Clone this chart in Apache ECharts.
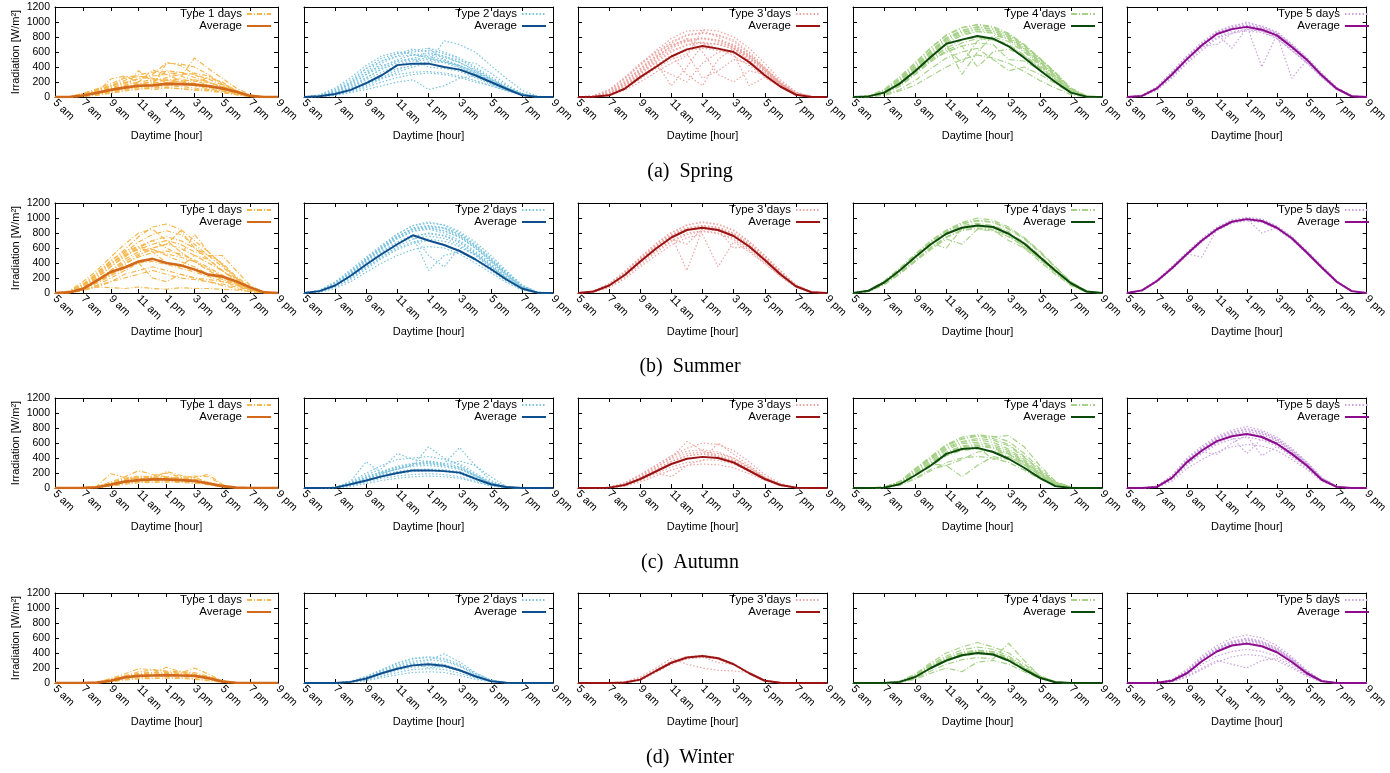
<!DOCTYPE html>
<html>
<head>
<meta charset="utf-8">
<script src="https://cdn.jsdelivr.net/npm/echarts@6/dist/echarts.min.js"></script>
<style>
html,body{margin:0;padding:0;background:#fff;}
#chart{width:1390px;height:773px;}
</style>
</head>
<body>
<div id="chart"></div>
<script>
// ---------- tick labels / categories ----------
const hours = ['5 am','6 am','7 am','8 am','9 am','10 am','11 am','12 pm','1 pm','2 pm','3 pm','4 pm','5 pm','6 pm','7 pm','8 pm','9 pm'];
const typeNames = ['Type 1 days','Type 2 days','Type 3 days','Type 4 days','Type 5 days'];
const captions = ['(a)  Spring','(b)  Summer','(c)  Autumn','(d)  Winter'];
const yTitle = 'Irradiation [W/m\u00B2]';
const xTitle = 'Daytime [hour]';

// ---------- SPRING ----------
const sp1Avg = [0,0,20,55,95,125,150,155,175,172,165,145,115,70,15,0,0];
const sp1Days = [
[0,0,30,80,120,180,250,300,460,420,300,200,140,80,20,0,0],
[0,0,50,90,100,140,350,200,180,260,520,380,250,120,30,0,0],
[0,0,20,60,240,280,200,360,300,220,180,150,100,60,10,0,0],
[0,0,10,40,80,120,150,180,220,240,200,260,200,80,15,0,0],
[0,0,5,30,60,90,110,130,150,140,120,100,60,30,5,0,0],
[0,0,40,100,150,200,180,160,450,440,400,300,180,90,20,0,0],
[0,0,20,50,90,110,130,100,120,110,90,80,60,40,10,0,0],
[0,0,30,70,130,270,280,250,200,180,160,130,90,50,10,0,0],
[0,0,15,45,100,150,170,210,260,300,320,280,170,70,10,0,0],
[0,0,25,60,110,160,200,230,240,200,150,110,80,40,10,0,0],
[0,0,10,20,50,80,100,120,130,110,100,90,70,30,5,0,0],
[0,0,30,90,140,190,240,280,300,330,260,200,130,70,15,0,0],
[0,0,35,85,160,220,300,330,340,280,220,160,110,60,12,0,0],
[0,0,15,40,70,100,130,160,190,210,230,190,140,70,10,0,0],
[0,0,45,110,180,250,270,240,220,200,180,150,100,50,8,0,0],
[0,0,20,50,90,130,170,200,350,330,300,240,160,80,15,0,0]
];
const sp2Avg = [0,10,40,95,185,290,425,445,445,400,365,290,200,110,25,0,0];
const sp2Days = [
[0,20,80,200,380,520,580,600,620,580,500,380,250,130,40,5,0],
[0,10,50,120,230,330,420,480,500,470,420,340,240,130,40,5,0],
[0,30,120,260,420,550,600,570,520,460,380,280,180,90,25,0,0],
[0,5,30,80,150,240,330,400,450,750,700,600,420,250,90,10,0],
[0,10,40,100,180,250,300,330,340,320,280,220,150,80,20,0,0],
[0,15,60,150,300,450,550,620,650,600,520,400,270,150,45,5,0],
[0,5,20,60,100,150,200,230,100,150,250,280,200,110,30,0,0],
[0,20,90,200,330,420,480,520,560,530,460,360,240,120,35,5,0],
[0,10,50,110,200,300,380,420,650,500,400,310,200,110,30,0,0],
[0,5,25,70,130,200,260,300,320,300,260,200,150,90,25,0,0],
[0,20,70,170,300,400,500,560,580,550,480,450,320,170,50,5,0],
[0,10,45,120,250,380,470,510,400,380,340,260,170,90,25,0,0],
[0,15,70,180,340,480,580,640,600,540,460,350,230,120,35,5,0],
[0,8,35,90,170,260,360,430,470,460,420,330,220,120,35,5,0],
[0,25,100,230,380,480,540,560,540,500,420,320,210,100,30,0,0],
[0,12,55,140,260,370,450,500,520,480,400,300,200,100,30,0,0]
];
const sp3Avg = [0,3,22,110,265,400,540,635,680,645,600,465,290,140,30,0,0];
const sp3Days = [
[0,10,60,200,380,560,720,820,850,830,760,600,400,200,60,5,0],
[0,5,40,150,330,500,650,740,780,760,700,560,380,190,50,5,0],
[0,15,80,250,430,620,780,880,890,800,650,480,300,150,40,0,0],
[0,5,30,120,260,420,560,300,150,500,650,550,380,200,55,5,0],
[0,10,50,180,350,520,680,780,600,300,200,350,300,180,50,5,0],
[0,5,20,90,200,330,450,550,900,880,800,650,450,230,70,8,0],
[0,10,55,170,310,460,150,400,700,720,680,540,360,180,50,5,0],
[0,20,100,260,450,600,700,750,720,650,550,420,270,130,35,0,0],
[0,5,35,130,280,420,540,620,650,620,580,150,260,140,40,5,0],
[0,10,50,160,320,480,620,700,730,700,640,520,350,170,45,5,0],
[0,8,40,140,280,400,300,200,450,600,620,500,330,160,40,5,0],
[0,12,70,210,380,540,680,770,780,740,660,520,340,170,45,5,0],
[0,15,90,240,420,590,740,830,860,820,740,580,380,180,50,5,0],
[0,8,45,150,300,460,600,690,720,700,650,530,360,180,50,5,0],
[0,10,60,190,360,530,670,760,790,760,690,550,360,180,48,5,0],
[0,5,30,110,240,380,500,580,250,350,500,450,320,170,45,5,0]
];
const sp4Avg = [0,8,58,178,347,533,710,765,812,778,676,524,356,200,58,5,0];
const sp4Days = [
[0,15,90,250,450,650,820,920,970,940,850,700,520,330,120,15,0],
[0,10,70,220,400,600,780,880,930,900,820,680,500,310,100,10,0],
[0,5,40,140,300,470,620,720,780,760,680,550,380,220,70,5,0],
[0,8,60,190,360,540,700,300,600,820,780,640,460,280,80,8,0],
[0,5,30,100,220,380,520,600,650,500,350,400,300,180,50,5,0],
[0,12,80,230,420,610,780,860,900,880,800,660,480,290,95,10,0],
[0,5,50,150,320,500,650,760,800,780,700,560,400,240,70,5,0],
[0,3,20,80,160,280,400,500,560,520,450,340,220,120,30,0,0],
[0,10,70,200,380,560,720,820,870,850,760,620,440,260,80,8,0],
[0,8,55,170,350,520,660,450,750,800,740,600,420,250,75,8,0],
[0,10,60,180,340,500,600,680,720,700,500,480,360,210,60,5,0],
[0,15,100,270,460,660,830,930,960,930,840,700,510,320,110,12,0],
[0,12,85,240,430,620,790,890,940,910,830,690,510,320,105,12,0],
[0,8,65,200,380,570,740,840,880,860,780,640,460,280,88,9,0],
[0,10,75,215,400,590,760,860,910,880,800,650,470,285,90,10,0],
[0,5,45,160,330,480,600,680,400,600,640,540,390,230,70,5,0]
];
const sp5Avg = [0,15,115,300,505,690,840,905,935,898,822,667,498,289,111,10,0];
const sp5Days = [
[0,20,130,320,530,710,860,930,960,930,850,690,510,300,120,12,0],
[0,15,110,290,490,680,830,900,930,900,820,660,490,290,110,10,0],
[0,25,140,340,550,730,880,950,980,950,870,710,530,320,130,15,0],
[0,10,100,270,470,650,800,870,900,880,800,640,470,270,100,8,0],
[0,15,120,310,510,690,850,920,950,400,830,680,500,290,110,10,0],
[0,15,110,300,500,680,840,910,940,910,830,250,490,290,110,10,0],
[0,12,100,280,500,680,700,850,900,880,780,620,450,260,95,8,0],
[0,20,120,310,520,700,850,920,950,920,840,680,500,300,115,12,0],
[0,10,90,250,450,620,780,850,880,860,780,620,460,270,100,8,0],
[0,25,130,330,540,720,870,940,1000,940,860,700,520,310,120,12,0],
[0,15,115,300,500,690,840,650,920,890,810,660,490,285,110,10,0],
[0,18,125,315,515,700,855,925,955,925,845,690,505,300,115,12,0]
];

// ---------- SUMMER ----------
const su1Avg = [0,8,55,165,280,340,420,455,400,370,315,245,220,155,75,8,0];
const su1Days = [
[0,20,100,250,420,580,750,880,920,850,700,550,380,200,70,10,0],
[0,10,60,150,250,350,420,450,400,360,300,240,200,150,60,5,0],
[0,15,80,200,350,500,600,550,400,350,500,450,300,180,70,8,0],
[0,5,40,100,150,200,250,300,250,200,180,150,120,80,40,5,0],
[0,10,50,80,70,60,80,60,50,70,60,60,50,40,20,0,0],
[0,25,150,300,480,650,800,850,700,550,420,300,200,120,50,5,0],
[0,10,60,140,250,380,500,600,650,830,600,500,400,220,80,10,0],
[0,15,90,220,380,520,620,700,600,500,780,550,380,200,70,8,0],
[0,10,60,150,300,450,550,600,650,600,500,400,300,150,50,5,0],
[0,5,30,80,150,250,300,350,300,250,200,180,150,100,40,5,0],
[0,20,110,250,400,500,580,650,700,650,550,500,500,300,100,10,0],
[0,10,70,180,300,420,520,580,500,420,350,250,180,120,50,5,0],
[0,5,40,100,200,300,400,200,150,250,200,150,100,60,20,0,0],
[0,15,80,200,350,480,600,700,750,700,600,450,300,170,60,8,0],
[0,18,95,230,390,540,680,780,830,780,650,500,350,190,65,8,0],
[0,8,50,130,230,330,400,420,380,330,280,220,160,110,45,5,0],
[0,12,70,170,290,400,480,540,560,520,440,340,240,130,50,5,0],
[0,20,120,270,430,560,620,580,520,480,420,320,220,130,50,5,0]
];
const su2Avg = [0,25,100,230,380,520,650,770,700,640,560,450,320,180,60,5,0];
const su2Days = [
[0,30,130,280,450,620,780,900,950,900,800,650,460,270,90,10,0],
[0,25,110,250,420,580,720,820,850,800,700,560,400,220,70,8,0],
[0,20,100,230,380,530,650,750,300,500,550,450,320,180,55,5,0],
[0,35,140,290,460,620,760,850,870,830,750,600,420,240,80,8,0],
[0,15,80,180,320,460,580,660,700,650,560,440,300,160,50,5,0],
[0,30,120,260,430,600,750,870,900,870,780,640,470,280,100,12,0],
[0,20,90,210,350,480,600,680,720,690,620,500,340,190,60,5,0],
[0,25,100,240,400,560,680,780,500,350,600,520,360,200,65,6,0],
[0,35,150,310,480,640,790,900,930,910,820,680,500,300,110,12,0],
[0,10,60,150,280,400,500,580,620,600,520,400,270,140,40,3,0],
[0,20,95,220,370,520,660,750,800,770,680,540,380,210,70,6,0],
[0,30,130,270,440,600,740,850,880,860,760,620,440,250,85,8,0],
[0,28,120,265,435,590,730,830,860,830,740,600,430,240,80,8,0],
[0,22,105,235,390,540,670,760,790,760,670,530,370,200,65,6,0],
[0,18,85,200,340,490,620,720,760,730,640,510,350,190,60,5,0],
[0,30,135,285,455,610,750,860,890,870,780,630,450,260,90,10,0]
];
const su3Avg = [0,20,100,240,420,590,740,840,870,840,760,620,440,250,90,10,0];
const su3Days = [
[0,25,120,280,470,650,800,900,950,920,840,690,500,300,110,15,0],
[0,20,100,250,430,600,750,850,880,850,770,630,450,260,95,12,0],
[0,15,80,210,380,540,680,780,820,790,710,570,400,230,80,10,0],
[0,20,110,260,440,610,760,300,850,830,750,610,440,250,90,10,0],
[0,25,115,270,460,630,780,870,900,880,800,660,480,280,100,12,0],
[0,10,70,190,350,500,640,740,780,350,680,550,390,220,75,8,0],
[0,20,105,255,445,615,765,860,890,860,780,640,460,270,100,12,0],
[0,15,90,230,400,560,700,800,830,800,730,590,420,240,85,10,0],
[0,25,125,290,480,660,810,910,940,910,830,680,500,300,110,15,0],
[0,18,95,240,420,590,720,650,860,830,760,620,450,260,90,10,0],
[0,20,100,250,430,600,750,850,870,840,600,620,440,255,90,10,0],
[0,22,110,265,455,625,775,865,900,870,790,650,470,275,100,12,0]
];
const su4Avg = [0,30,140,300,480,650,790,870,900,880,790,660,480,300,130,20,0];
const su4Days = [
[0,35,150,320,500,680,820,920,960,940,850,720,540,340,150,25,0],
[0,30,140,300,480,660,800,880,910,890,800,680,500,310,130,20,0],
[0,25,120,270,440,610,750,840,870,850,760,630,450,280,110,15,0],
[0,35,160,330,520,700,840,940,1000,970,880,740,560,350,150,25,0],
[0,20,110,250,420,580,720,650,850,830,750,620,450,270,110,15,0],
[0,30,145,310,490,670,810,900,930,900,820,600,480,300,125,20,0],
[0,25,130,290,470,640,780,870,900,880,790,670,490,300,120,18,0],
[0,30,140,300,490,660,600,860,890,870,780,650,470,290,120,18,0],
[0,20,115,260,430,600,740,830,860,840,700,600,420,250,100,12,0],
[0,35,155,325,510,690,830,930,970,950,860,730,550,345,145,25,0]
];
const su5Avg = [0,35,160,330,520,700,850,950,985,960,870,730,540,340,150,25,0];
const su5Days = [
[0,40,170,350,540,720,870,970,1000,980,890,750,560,360,160,30,0],
[0,35,160,330,520,700,850,950,985,960,870,730,540,340,150,25,0],
[0,30,150,315,500,680,830,930,965,940,850,710,525,330,140,22,0],
[0,40,175,355,545,725,875,975,1010,985,895,755,565,365,165,30,0],
[0,35,160,330,520,480,850,950,985,800,870,730,540,340,150,25,0],
[0,30,150,320,510,690,840,940,970,950,860,720,530,335,145,22,0],
[0,38,165,340,530,710,860,960,995,970,880,740,550,350,155,28,0],
[0,32,155,325,515,695,845,945,975,955,865,725,535,338,148,24,0]
];

// ---------- AUTUMN ----------
const au1Avg = [0,0,0,10,45,85,105,115,115,105,95,60,25,5,0,0,0];
const au1Days = [
[0,0,5,20,80,150,230,180,150,120,100,60,20,5,0,0,0],
[0,0,0,10,50,100,140,160,200,150,140,180,50,5,0,0,0],
[0,0,0,15,60,120,150,140,130,120,110,70,30,5,0,0,0],
[0,0,0,5,30,60,80,90,90,80,70,50,20,3,0,0,0],
[0,0,5,25,190,140,120,130,220,170,140,80,30,5,0,0,0],
[0,0,0,10,40,80,100,120,110,100,90,60,25,5,0,0,0],
[0,0,0,8,35,70,90,100,100,95,160,150,40,5,0,0,0],
[0,0,2,15,60,110,130,140,150,140,120,70,25,3,0,0,0],
[0,0,0,5,25,50,70,75,80,75,65,45,15,2,0,0,0],
[0,0,3,20,70,130,160,150,140,130,100,60,20,3,0,0,0]
];
const au2Avg = [0,0,5,50,100,155,200,235,235,225,205,125,50,12,0,0,0];
const au2Days = [
[0,0,10,80,200,300,380,400,420,380,320,200,80,15,0,0,0],
[0,0,5,60,150,220,280,320,330,300,260,160,60,10,0,0,0],
[0,0,10,90,350,200,250,300,550,400,300,180,70,12,0,0,0],
[0,0,3,30,80,130,160,180,190,180,150,90,30,5,0,0,0],
[0,0,8,70,170,260,460,380,350,320,540,300,100,20,0,0,0],
[0,0,5,50,120,180,220,250,250,240,210,130,50,10,0,0,0],
[0,0,5,40,100,160,200,230,240,230,200,120,45,8,0,0,0],
[0,0,8,60,140,220,290,330,340,310,360,300,150,20,0,0,0],
[0,0,2,20,60,100,130,150,160,150,130,80,30,5,0,0,0],
[0,0,6,55,130,200,260,290,300,280,250,160,60,10,0,0,0],
[0,0,4,45,110,170,210,240,250,240,220,140,55,10,0,0,0],
[0,0,7,60,140,210,270,310,320,300,270,170,65,12,0,0,0],
[0,0,4,40,100,150,190,220,230,220,190,110,40,8,0,0,0],
[0,0,6,50,120,190,250,320,360,330,280,170,60,10,0,0,0]
];
const au3Avg = [0,0,5,40,120,220,320,390,415,400,340,230,120,40,5,0,0];
const au3Days = [
[0,0,10,60,170,300,430,530,600,580,500,350,180,60,8,0,0],
[0,0,5,40,130,240,350,430,460,440,380,260,130,40,5,0,0],
[0,0,8,50,150,270,400,620,500,420,360,250,130,45,6,0,0],
[0,0,3,30,100,190,280,340,360,600,450,300,150,50,6,0,0],
[0,0,10,70,180,300,420,490,510,480,400,270,140,45,6,0,0],
[0,0,4,35,110,200,150,300,380,370,320,220,110,35,4,0,0],
[0,0,6,45,140,250,360,430,450,420,360,240,120,40,5,0,0],
[0,0,2,25,80,160,240,300,320,310,270,190,100,30,3,0,0],
[0,0,8,55,160,280,390,460,480,460,400,280,140,45,6,0,0]
];
const au4Avg = [0,0,5,50,170,300,455,520,535,480,390,270,135,25,0,0,0];
const au4Days = [
[0,0,10,80,240,400,560,650,690,660,580,420,240,70,8,0,0],
[0,0,8,70,210,360,510,590,610,580,500,360,200,55,5,0,0],
[0,0,5,50,160,290,430,500,520,490,420,300,160,40,3,0,0],
[0,0,10,85,250,410,570,660,700,680,700,550,300,90,10,0,0],
[0,0,5,40,130,250,300,150,300,420,380,270,140,35,3,0,0],
[0,0,8,65,200,340,480,560,590,560,480,350,190,50,5,0,0],
[0,0,6,55,170,310,440,520,550,380,420,310,170,45,4,0,0],
[0,0,12,90,260,420,580,680,710,690,620,460,260,80,10,0,0],
[0,0,4,40,120,230,340,400,420,400,340,240,120,30,2,0,0],
[0,0,8,65,190,330,470,550,570,540,460,330,180,50,5,0,0],
[0,0,6,55,180,320,300,380,480,500,450,340,200,60,6,0,0],
[0,0,9,75,220,380,530,610,640,610,520,380,210,60,6,0,0],
[0,0,7,60,190,330,460,540,560,530,450,320,175,48,5,0,0],
[0,0,10,80,235,390,540,620,660,640,560,410,230,65,7,0,0]
];
const au5Avg = [0,0,15,135,345,500,625,690,720,680,590,455,300,110,15,0,0];
const au5Days = [
[0,0,20,150,370,530,660,740,780,740,650,500,330,130,20,0,0],
[0,0,15,130,340,500,630,700,730,690,600,460,300,110,15,0,0],
[0,0,25,170,400,560,690,770,820,770,680,530,350,140,22,0,0],
[0,0,10,110,300,460,580,650,680,640,560,420,270,95,12,0,0],
[0,0,15,130,330,480,450,600,700,430,550,430,280,100,15,0,0],
[0,0,18,140,360,520,650,720,750,720,630,490,320,120,18,0,0],
[0,0,12,120,320,470,600,680,460,660,580,440,290,105,14,0,0],
[0,0,22,160,380,540,670,750,790,750,660,510,340,135,20,0,0],
[0,0,14,125,330,490,620,690,720,690,600,460,300,115,16,0,0],
[0,0,8,90,260,380,480,550,580,560,500,380,250,90,10,0,0],
[0,0,17,145,360,515,645,720,760,720,630,485,320,125,18,0,0],
[0,0,13,125,335,495,625,695,725,695,605,465,305,115,16,0,0],
[0,0,20,155,375,535,665,745,785,745,655,505,335,130,20,0,0]
];

// ---------- WINTER ----------
const wi1Avg = [0,0,0,5,30,75,95,100,105,100,95,65,20,3,0,0,0];
const wi1Days = [
[0,0,0,10,60,120,190,180,160,150,140,90,30,5,0,0,0],
[0,0,0,5,40,90,120,130,210,150,120,80,25,3,0,0,0],
[0,0,0,8,50,100,130,140,140,130,200,120,30,4,0,0,0],
[0,0,0,3,20,50,70,80,80,75,60,40,10,2,0,0,0],
[0,0,0,5,30,70,100,110,110,100,90,60,20,3,0,0,0],
[0,0,0,6,40,80,110,120,130,120,110,70,22,3,0,0,0],
[0,0,0,2,15,40,55,60,65,60,50,30,10,1,0,0,0],
[0,0,0,7,45,90,150,170,150,130,110,70,25,3,0,0,0]
];
const wi2Avg = [0,0,0,15,60,130,190,235,250,230,170,90,25,3,0,0,0];
const wi2Days = [
[0,0,0,20,80,170,260,320,340,310,230,120,35,5,0,0,0],
[0,0,0,15,60,130,200,250,270,250,180,90,25,3,0,0,0],
[0,0,0,25,90,180,270,330,350,330,250,130,40,5,0,0,0],
[0,0,0,10,40,90,140,180,190,180,130,70,20,2,0,0,0],
[0,0,0,18,70,150,220,270,300,390,280,140,40,5,0,0,0],
[0,0,0,12,50,110,170,210,230,210,160,80,20,2,0,0,0],
[0,0,0,15,65,140,210,260,200,230,170,90,25,3,0,0,0],
[0,0,0,8,30,70,110,140,150,140,100,50,15,2,0,0,0],
[0,0,0,20,75,160,240,290,310,290,220,110,30,4,0,0,0]
];
const wi3Avg = [0,0,0,8,45,160,270,340,360,330,250,130,30,3,0,0,0];
const wi3Days = [
[0,0,0,10,50,170,280,350,370,340,260,140,35,4,0,0,0],
[0,0,0,8,45,160,270,340,360,330,250,130,30,3,0,0,0],
[0,0,0,5,35,140,250,320,340,320,240,125,28,3,0,0,0],
[0,0,0,15,80,200,330,250,200,170,160,140,35,4,0,0,0],
[0,0,0,10,60,180,290,350,350,270,250,140,40,5,0,0,0],
[0,0,0,7,40,150,260,330,360,335,255,135,32,3,0,0,0]
];
const wi4Avg = [0,0,0,15,80,200,300,370,400,380,300,180,70,10,0,0,0];
const wi4Days = [
[0,0,0,20,110,250,360,440,480,450,360,220,90,15,0,0,0],
[0,0,0,15,90,220,320,390,420,400,320,190,75,12,0,0,0],
[0,0,0,25,120,270,400,480,540,480,400,250,100,18,0,0,0],
[0,0,0,10,60,160,250,310,340,320,530,300,90,12,0,0,0],
[0,0,0,8,50,130,200,150,280,300,250,150,60,8,0,0,0],
[0,0,0,18,100,230,340,410,440,420,340,210,85,14,0,0,0],
[0,0,0,12,70,190,290,360,390,370,290,170,65,10,0,0,0],
[0,0,0,20,100,240,300,380,420,390,310,200,80,12,0,0,0],
[0,0,0,15,85,210,330,400,430,410,330,200,80,13,0,0,0]
];
const wi5Avg = [0,0,2,30,130,290,420,500,525,490,410,280,130,25,0,0,0];
const wi5Days = [
[0,0,5,40,160,330,460,550,590,550,460,320,150,30,0,0,0],
[0,0,3,35,140,310,440,520,550,520,430,300,140,28,0,0,0],
[0,0,6,45,180,360,500,600,640,600,500,350,170,35,0,0,0],
[0,0,2,25,110,250,360,420,450,420,360,250,110,20,0,0,0],
[0,0,2,20,90,200,300,250,200,300,330,220,100,18,0,0,0],
[0,0,4,38,150,320,450,530,570,530,440,310,145,29,0,0,0],
[0,0,5,42,170,340,470,560,600,560,470,330,160,32,0,0,0],
[0,0,1,15,80,180,280,350,380,360,300,200,90,15,0,0,0],
[0,0,3,30,130,290,420,500,520,490,410,290,130,25,0,0,0],
[0,0,4,36,155,325,455,540,580,540,450,315,148,30,0,0,0],
[0,0,4,38,155,320,450,540,575,540,450,315,150,30,0,0,0],
[0,0,3,33,140,300,430,510,540,505,420,295,135,26,0,0,0]
];

// ---------- assembly ----------
const panels = [
  [[sp1Days,sp1Avg],[sp2Days,sp2Avg],[sp3Days,sp3Avg],[sp4Days,sp4Avg],[sp5Days,sp5Avg]],
  [[su1Days,su1Avg],[su2Days,su2Avg],[su3Days,su3Avg],[su4Days,su4Avg],[su5Days,su5Avg]],
  [[au1Days,au1Avg],[au2Days,au2Avg],[au3Days,au3Avg],[au4Days,au4Avg],[au5Days,au5Avg]],
  [[wi1Days,wi1Avg],[wi2Days,wi2Avg],[wi3Days,wi3Avg],[wi4Days,wi4Avg],[wi5Days,wi5Avg]]
];

const dayColors = ['#f5b84f','#7cc3dd','#eaa6a2','#a7d189','#caa3de'];
const avgColors = ['#d2691b','#0f4e8c','#9b1212','#0b4a0b','#8d0b8d'];
const dayDash = [[5,2,1,2],[1.5,2],[1.5,2],[6,2,1,2],[1.5,2]];
const avgWidth = [2.6,2,2,2,2];

const W = 1390;
const rowTops = [7,203,398,593];
const plotH = 90;
const colLefts = [55,304,578,853,1127];
const colWidths = [223,249,249,249,249];
const captionY = [172,367,563,758];
const FONT = '"Liberation Sans", Arial, sans-serif';

const grids=[], xAxes=[], yAxes=[], series=[], legends=[], graphics=[];
let gi = 0;
for (let r=0;r<4;r++){
  for (let c=0;c<5;c++){
    grids.push({left:colLefts[c], top:rowTops[r], width:colWidths[c], height:plotH, containLabel:false});
    const line = {show:true, onZero:false, lineStyle:{color:'#000', width:1}};
    const tick = {show:true, inside:true, length:4, interval:1, lineStyle:{color:'#000', width:1}};
    xAxes.push({type:'category', gridIndex:gi, data:hours, boundaryGap:false, position:'bottom',
      axisLine:line, axisTick:tick,
      axisLabel:{interval:1, rotate:-45, fontSize:11, color:'#000', margin:4, fontFamily:FONT},
      splitLine:{show:false},
      name:xTitle, nameLocation:'middle', nameGap:33,
      nameTextStyle:{fontSize:11, color:'#000', fontFamily:FONT}});
    xAxes.push({type:'category', gridIndex:gi, data:hours, boundaryGap:false, position:'top',
      axisLine:line, axisTick:tick, axisLabel:{show:false}, splitLine:{show:false}});
    yAxes.push({type:'value', gridIndex:gi, min:0, max:1200, interval:200, position:'left',
      axisLine:line, axisTick:{show:true, inside:true, length:4, lineStyle:{color:'#000'}},
      axisLabel:{show:c===0, fontSize:10.5, color:'#000', margin:5, fontFamily:FONT, formatter: v => String(v)},
      splitLine:{show:false},
      name: c===0 ? yTitle : '', nameLocation:'middle', nameGap:34, nameRotate:90,
      nameTextStyle:{fontSize:11, color:'#000', fontFamily:FONT}});
    yAxes.push({type:'value', gridIndex:gi, min:0, max:1200, interval:200, position:'right',
      axisLine:line, axisTick:{show:true, inside:true, length:4, lineStyle:{color:'#000'}},
      axisLabel:{show:false}, splitLine:{show:false}});

    const [days, avg] = panels[r][c];
    const dName = typeNames[c] + '#' + gi;
    const aName = 'Average#' + gi;
    days.forEach(d => {
      series.push({type:'line', name:dName, xAxisIndex:2*gi, yAxisIndex:2*gi, data:d,
        symbol:'none', silent:true, z:2,
        lineStyle:{color:dayColors[c], width:1.2, type:dayDash[c]}, itemStyle:{color:dayColors[c]}});
    });
    series.push({type:'line', name:aName, xAxisIndex:2*gi, yAxisIndex:2*gi, data:avg,
      symbol:'none', silent:true, z:3,
      lineStyle:{color:avgColors[c], width:avgWidth[c]}, itemStyle:{color:avgColors[c]}});

    legends.push({orient:'vertical', right: W - (colLefts[c]+colWidths[c]) + 6, top: rowTops[r]+1,
      align:'right', itemWidth:24, itemHeight:8, itemGap:0, padding:0, selectedMode:false,
      data:[dName, aName], formatter: n => n.split('#')[0],
      itemStyle:{opacity:0},
      textStyle:{fontSize:11.5, color:'#000', fontFamily:FONT, lineHeight:12}});
    gi++;
  }
}
for (let r=0;r<4;r++){
  graphics.push({type:'text', x:690, y:captionY[r],
    style:{text:captions[r], textAlign:'center', textVerticalAlign:'middle',
      font:'20px "Liberation Serif", "Times New Roman", serif', fill:'#000'}});
}

const chart = echarts.init(document.getElementById('chart'), null, {renderer:'canvas'});
chart.setOption({
  animation:false,
  backgroundColor:'#fff',
  grid:grids, xAxis:xAxes, yAxis:yAxes, series:series, legend:legends, graphic:graphics
});
</script>
</body>
</html>
